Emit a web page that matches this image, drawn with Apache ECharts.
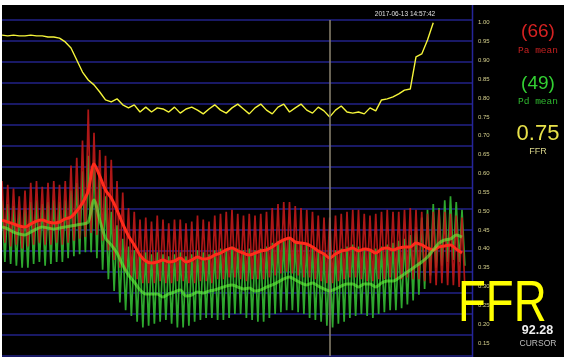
<!DOCTYPE html>
<html>
<head>
<meta charset="utf-8">
<title>FFR pressure recording</title>
<script src="https://cdn.jsdelivr.net/npm/echarts@6.0.0/dist/echarts.min.js"></script>
<style>
  html, body { margin: 0; padding: 0; background: #fff; }
  #wrap { position: relative; width: 564px; height: 357px; background: #fff; overflow: hidden; }
  #chart { position: absolute; left: 2px; top: 5px; width: 562px; height: 352px; background: #000; }
</style>
</head>
<body>
<div id="wrap"><div id="chart"></div></div>
<script>
// Per-beat values, beat index 0..80.
// Aortic pressure (Pa) systolic / diastolic peaks, mmHg
const paSys = [106,104,102,98,101,105,106,103,105,106,104,
  106,114,118,127,143,131,122,119,117,106,
  100,92,90,86,87,85,88,86,84,86,
  86,84,85,88,86,85,88,89,90,91,
  89,88,89,88,89,90,92,94,95,95,
  93,92,91,90,88,87,87,88,89,90,
  91,91,89,88,89,90,91,90,90,91,
  92,91,90,89,90,91,90,89,88,87];
const paDia = [74,72,73,71,72,73,74,73,73,74,73,
  74,75,76,77,79,78,75,70,65,61,
  59,56,55,53,53,53,54,53,53,54,
  54,53,53,54,54,53,55,55,56,56,
  55,54,55,55,55,56,57,58,59,58,
  57,56,56,55,54,53,53,54,55,56,
  56,55,54,54,55,55,56,55,55,56,
  55,55,54,53,52,53,52,52,51,50];
// Distal pressure (Pd) systolic / diastolic peaks, mmHg
const pdSys = [96,94,93,91,92,95,96,94,95,96,95,
  96,101,105,111,119,117,107,98,90,83,
  76,72,70,68,69,68,69,68,67,68,
  69,67,68,70,69,68,70,71,71,72,
  71,70,71,70,71,72,74,75,76,76,
  75,74,73,72,70,69,69,70,71,72,
  73,72,71,70,71,72,73,74,75,76,
  78,82,87,91,94,92,96,98,95,91];
const pdDia = [64,63,62,61,61,63,64,62,63,64,64,
  66,67,68,69,69,66,60,55,49,43,
  39,36,33,30,31,32,33,34,32,30,
  30,31,33,34,35,35,34,34,35,37,
  37,35,34,33,33,35,37,38,39,39,
  38,37,35,34,33,31,30,32,33,35,
  36,37,36,35,37,38,39,39,40,42,
  44,47,50,57,61,62,64,65,64,62];
// Mean pressures, mmHg
const paMean = [85.7,84.7,83.7,82.6,82.1,83.7,85.2,85.7,84.7,84.2,84.7,
  86.3,87.3,90.4,94.6,100.8,114.8,108.5,101.3,97.1,90.9,
  83.7,77.5,72.8,67.6,64.5,63.5,64.0,65.0,64.0,64.5,
  66.0,64.0,65.0,66.6,65.5,66.0,67.6,68.6,70.2,71.2,
  69.7,68.6,67.6,68.6,69.7,70.2,71.8,73.8,75.4,76.4,
  74.3,73.8,73.3,71.8,69.7,68.1,66,68.1,69.7,70.2,
  71.2,69.7,70.7,70.2,68.6,70.7,71.2,70.2,71.2,71.8,
  71.8,73.8,72.8,71.2,70.2,71.8,72.3,72.8,70.7,68.6];
const pdMean = [82.1,81.1,79.5,78.5,78.0,79.5,81.1,82.1,81.6,81.1,81.6,
  82.1,82.6,83.2,83.7,84.7,96.1,85.7,76.4,72.8,68.6,
  62.4,57.2,53.6,49.5,47.4,47.4,47.4,45.8,47.4,48.4,
  49.5,46.4,46.9,48.4,47.9,48.9,49.5,50.5,51.5,52.1,
  51.0,50.0,50.5,48.9,49.5,51.0,52.1,53.6,55.2,56.2,
  54.7,53.1,52.1,53.1,51.5,50.0,49,50.0,51.5,52.6,
  52.6,51.0,52.6,52.6,51.0,53.1,54.1,54.1,55.7,57.8,
  59.8,61.9,64.0,66.6,70.2,73.8,75.4,75.9,78.0,76.9];
// Pd/Pa ratio per beat
const ffr = [0.967,0.965,0.967,0.965,0.965,0.967,0.965,0.965,0.962,0.962,0.959,
  0.949,0.933,0.901,0.869,0.848,0.835,0.816,0.795,0.790,0.798,
  0.782,0.774,0.782,0.763,0.776,0.763,0.774,0.771,0.763,0.776,
  0.760,0.771,0.776,0.768,0.758,0.771,0.782,0.768,0.760,0.774,
  0.784,0.771,0.758,0.774,0.784,0.768,0.758,0.776,0.784,0.763,
  0.774,0.784,0.768,0.760,0.776,0.766,0.75,0.768,0.779,0.763,
  0.760,0.763,0.758,0.774,0.766,0.795,0.798,0.803,0.811,0.821,
  0.824,0.909,0.917,0.954,1.000];

const CURSOR_BEAT = 57;
const cursorTime = '92.28';
const recordStamp = '2017-06-13 14:57:42';

// Pulsatile trace: systolic peak at the beat, diastolic trough half a beat later
function pulseTrace(sys, dia) {
  const pts = [];
  sys.forEach((s, i) => { pts.push([i, s]); pts.push([i + 0.5, dia[i]]); });
  return pts;
}
const byBeat = arr => arr.map((v, i) => [i, v]);

const X_MAX = 81.74;
const SANS = 'Liberation Sans, Arial, sans-serif';

function txt(text, x, y, size, color, extra, props) {
  return Object.assign({
    type: 'text', x: x, y: y, silent: true, z: 20,
    style: Object.assign({
      text: text, fill: color, fontSize: size, fontFamily: SANS,
      align: 'center', verticalAlign: 'middle'
    }, extra || {})
  }, props || {});
}

const chart = echarts.init(document.getElementById('chart'), null, { renderer: 'canvas' });
chart.setOption({
  backgroundColor: '#000',
  animation: false,
  grid: [
    { left: 0, top: 17.7, width: 470, height: 320.3 },
    { left: 0, top: 15, width: 470, height: 336 }
  ],
  xAxis: [
    { type: 'value', gridIndex: 0, min: 0, max: X_MAX, show: false },
    { type: 'value', gridIndex: 1, min: 0, max: X_MAX, show: false }
  ],
  yAxis: [
    {
      type: 'value', gridIndex: 0, position: 'right', min: 0.15, max: 1, interval: 0.05,
      axisLine: { show: false }, axisTick: { show: false }, splitLine: { show: false },
      axisLabel: { color: '#d4cf8c', fontSize: 6, margin: 6, fontFamily: SANS,
        formatter: v => v.toFixed(2) }
    },
    { type: 'value', gridIndex: 0, min: 22, max: 188, show: false },
    {
      type: 'value', gridIndex: 1, min: 0, max: 16, interval: 1,
      axisLabel: { show: false }, axisLine: { show: false }, axisTick: { show: false },
      splitLine: { show: true, lineStyle: { color: '#222288', width: 1.5 } }
    }
  ],
  series: [
    {
      name: 'Pd', type: 'line', xAxisIndex: 0, yAxisIndex: 1, showSymbol: false,
      data: pulseTrace(pdSys, pdDia),
      lineStyle: { color: '#2ea82e', width: 1.7 }
    },
    {
      name: 'Pa', type: 'line', xAxisIndex: 0, yAxisIndex: 1, showSymbol: false,
      data: pulseTrace(paSys, paDia),
      lineStyle: { color: '#c01a1a', width: 1.7, opacity: 0.9 }
    },
    {
      name: 'Pa mean', type: 'line', xAxisIndex: 0, yAxisIndex: 1, showSymbol: false,
      smooth: 0.3, data: byBeat(paMean),
      lineStyle: { color: '#ff2b1c', width: 3 }
    },
    {
      name: 'Pd mean', type: 'line', xAxisIndex: 0, yAxisIndex: 1, showSymbol: false,
      smooth: 0.3, data: byBeat(pdMean),
      lineStyle: { color: '#66ff3c', width: 3, opacity: 0.58 }
    },
    {
      name: 'FFR', type: 'line', xAxisIndex: 0, yAxisIndex: 0, showSymbol: false,
      data: byBeat(ffr),
      lineStyle: { color: '#f5f53a', width: 1.4 }
    },
    {
      name: 'cursor', type: 'line', xAxisIndex: 1, yAxisIndex: 2, data: [],
      markLine: {
        silent: true, symbol: 'none', label: { show: false },
        lineStyle: { color: '#8c8470', width: 1.5, type: 'solid' },
        data: [{ xAxis: CURSOR_BEAT }]
      }
    }
  ],
  graphic: [
    { type: 'line', silent: true, z: 5,
      shape: { x1: 470.5, y1: 0, x2: 470.5, y2: 352 },
      style: { stroke: '#25259a', lineWidth: 1.5 } },
    txt(recordStamp, 403, 9, 6.5, '#e0e0e0'),
    txt('(' + paMean[CURSOR_BEAT] + ')', 536, 27, 19, '#d42222'),
    txt('Pa mean', 536, 45, 9.5, '#c42020', { fontFamily: 'Liberation Mono, monospace' }),
    txt('(' + pdMean[CURSOR_BEAT] + ')', 536, 78.5, 19, '#33d033'),
    txt('Pd mean', 536, 96, 9.5, '#2fb82f', { fontFamily: 'Liberation Mono, monospace' }),
    txt(ffr[CURSOR_BEAT].toFixed(2), 536, 129, 22, '#e8e24a'),
    txt('FFR', 536, 147, 9, '#d9d58a'),
    // large overlay caption, horizontally condensed
    txt('FFR', 456, 300, 57, '#ffff00', { align: 'left' }, { scaleX: 0.8 }),
    txt(cursorTime, 535.5, 325.5, 12.5, '#f0f0f0', { fontWeight: 'bold' }),
    txt('CURSOR', 536, 338.7, 8.5, '#bdbdbd')
  ]
});
</script>
</body>
</html>
